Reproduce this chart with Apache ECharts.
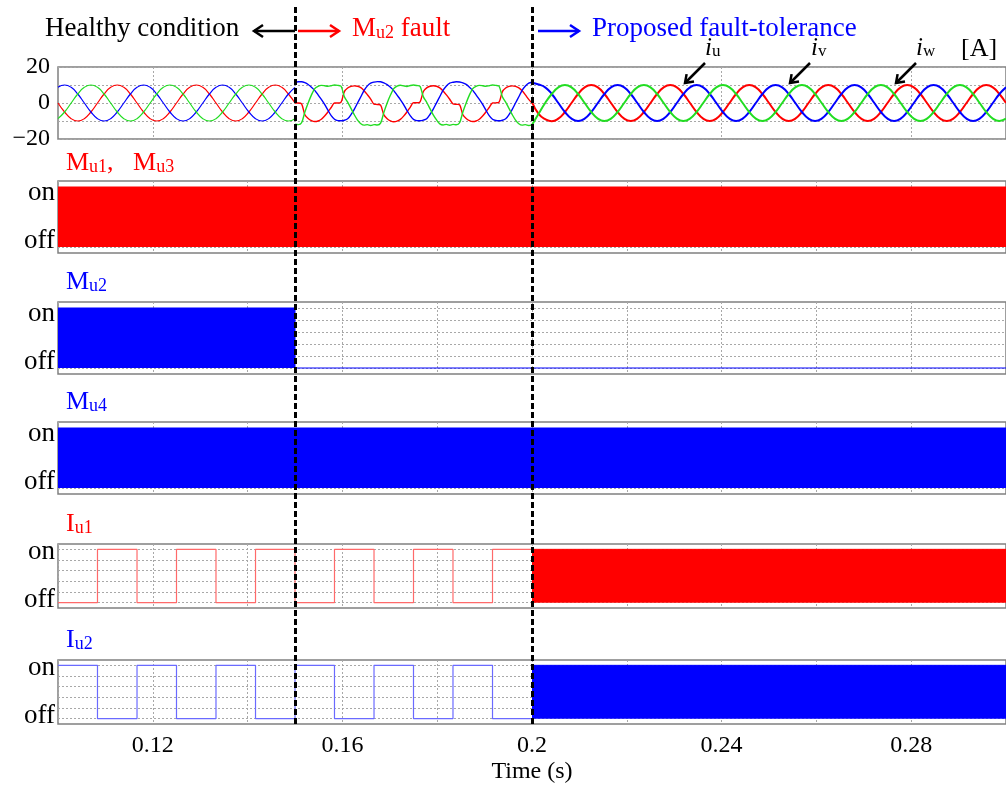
<!DOCTYPE html>
<html><head><meta charset="utf-8">
<script src="https://cdn.jsdelivr.net/npm/echarts@6/dist/echarts.min.js"></script>
<style>html,body{margin:0;padding:0;background:#fff}#c{width:1006px;height:785px}</style>
</head><body><div id="c"></div>
<script>
// ---------- time base ----------
const tStart = 0.1, tFault = 0.15, tTolerant = 0.2, tEnd = 0.3;
const coarseStep = 1 / 720;   // 30 deg of 60 Hz
const fineStep = 1 / 1440;    // 15 deg of 60 Hz
const xTickLabels = [0.12, 0.16, 0.2, 0.24, 0.28];
const currentGridTicks = [0.12, 0.16, 0.2, 0.24, 0.28];
const currentLabels = [-20, 0, 20];
const switchTicks = [0, 0.2, 0.4, 0.6, 0.8, 1];
const moduleLabelPos = [0.1, 0.9];     // where "off" / "on" text sits
const igbtLabelPos = [0.05, 0.95];
const eventTimes = [tFault, tTolerant];

// ---------- phase currents [A], healthy 0.10-0.15 s (step 1/720 s) ----------
const iuHealthy = [0,-5,-8.7,-10,-8.7,-5,0,5,8.7,10,8.7,5,
  0,-5,-8.7,-10,-8.7,-5,0,5,8.7,10,8.7,5,
  0,-5,-8.7,-10,-8.7,-5,0,5,8.7,10,8.7,5, 0];
const ivHealthy = [8.7,10,8.7,5,0,-5,-8.7,-10,-8.7,-5,0,5,
  8.7,10,8.7,5,0,-5,-8.7,-10,-8.7,-5,0,5,
  8.7,10,8.7,5,0,-5,-8.7,-10,-8.7,-5,0,5, 8.7];
const iwHealthy = [-8.7,-5,0,5,8.7,10,8.7,5,0,-5,-8.7,-10,
  -8.7,-5,0,5,8.7,10,8.7,5,0,-5,-8.7,-10,
  -8.7,-5,0,5,8.7,10,8.7,5,0,-5,-8.7,-10, -8.7];

// ---------- Mu2 fault 0.15-0.20 s (step 1/1440 s) ----------
const iuFault = [
  0,0,-0.5,-6.5,-8.6,-9.8,-10.3,-10,-9,-7.2,-5,-2.5,
  0,0,0.5,6.3,8.3,9.2,9.5,9.3,8.5,6.8,4.6,2.2,
  -0.6,-0.8,-1.2,-6.6,-8.7,-9.9,-10.4,-10.1,-9.1,-7.3,-5,-2.4,
  0.1,0.1,0.6,6.4,8.4,9.3,9.6,9.3,8.4,6.7,4.5,2.1,
  -0.5,-0.7,-1,-6.5,-8.6,-9.8,-10.3,-10,-9,-7.2,-5,-2.5,
  0,0.1,0.5,6.3,8.3,9.2,9.5,9.2,8.4,6.8,4.5,2.0,
  0];
const ivFault = [
  11.5,11.8,11.8,11.3,10.3,8.8,7,4.5,2,-0.8,-4,-7,
  -9,-9.8,-9.9,-9.6,-8.8,-6.5,-3.5,0,3.5,7,9.5,11,
  11.6,11.9,11.8,11.2,10.2,8.7,6.9,4.4,1.9,-0.9,-4.1,-7,
  -9.1,-9.8,-9.9,-9.5,-8.7,-6.4,-3.4,0.1,3.6,7.1,9.5,11,
  11.5,11.8,11.7,11.2,10.3,8.8,7,4.5,2,-0.8,-4,-7,
  -9,-9.7,-9.9,-9.6,-8.8,-6.5,-3.5,0,3.5,7,9.4,11,
  11.5];
const iwFault = [
  -11.8,-12,-11,-5,0,4.5,8,9.3,9.8,9.6,9.3,9.6,
  10,9.8,9.3,3.5,0.5,-3,-6.5,-9.5,-11.5,-12.3,-12,-12.5,
  -12,-12.2,-11.2,-5.2,0,4.4,8,9.4,9.9,9.5,9.2,9.7,
  10,9.7,9.2,3.4,0.4,-3.1,-6.6,-9.4,-11.6,-12.2,-11.9,-12.4,
  -11.9,-12.1,-11,-5,0,4.5,8,9.3,9.8,9.6,9.3,9.6,
  10,9.8,9.3,3.5,0.5,-3,-6.5,-9.5,-11.5,-12.3,-12,-12.5,
  -12];

// ---------- proposed fault tolerance 0.20-0.30 s (step 1/720 s) ----------
const iuPost = [0.5,-6,-9,-10.2,-8.7,-5,0,5,8.7,10,8.7,5,
  0,-5,-8.7,-10,-8.7,-5,0,5,8.7,10,8.7,5,
  0,-5,-8.7,-10,-8.7,-5,0,5,8.7,10,8.7,5,
  0,-5,-8.7,-10,-8.7,-5,0,5,8.7,10,8.7,5,
  0,-5,-8.7,-10,-8.7,-5,0,5,8.7,10,8.7,5,
  0,-5,-8.7,-10,-8.7,-5,0,5,8.7,10,8.7,5, 0];
const ivPost = [11.2,10.3,8.7,5,0,-5,-8.7,-10,-8.7,-5,0,5,
  8.7,10,8.7,5,0,-5,-8.7,-10,-8.7,-5,0,5,
  8.7,10,8.7,5,0,-5,-8.7,-10,-8.7,-5,0,5,
  8.7,10,8.7,5,0,-5,-8.7,-10,-8.7,-5,0,5,
  8.7,10,8.7,5,0,-5,-8.7,-10,-8.7,-5,0,5,
  8.7,10,8.7,5,0,-5,-8.7,-10,-8.7,-5,0,5, 8.7];
const iwPost = [-12.2,-6,0,5,8.7,10,8.7,5,0,-5,-8.7,-10,
  -8.7,-5,0,5,8.7,10,8.7,5,0,-5,-8.7,-10,
  -8.7,-5,0,5,8.7,10,8.7,5,0,-5,-8.7,-10,
  -8.7,-5,0,5,8.7,10,8.7,5,0,-5,-8.7,-10,
  -8.7,-5,0,5,8.7,10,8.7,5,0,-5,-8.7,-10,
  -8.7,-5,0,5,8.7,10,8.7,5,0,-5,-8.7,-10, -8.7];

// ---------- switching states (1 = on, 0 = off) ----------
const mu13Times = [0.1, 0.3];           const mu13States = [1, 1];
const mu2Times  = [0.1, 0.15, 0.15, 0.3]; const mu2States = [1, 1, 0, 0];
const mu4Times  = [0.1, 0.3];           const mu4States = [1, 1];
const iuTimes = [0.1, 0.10833, 0.11667, 0.125, 0.13333, 0.14167, 0.15, 0.15833, 0.16667, 0.175, 0.18333, 0.19167, 0.2];
const iu1States = [0, 1, 0, 1, 0, 1, 0, 1, 0, 1, 0, 1, 1];
const iu2States = [1, 0, 1, 0, 1, 0, 1, 0, 1, 0, 1, 0, 0];
const iu1BlockTimes = [0.2, 0.3]; const iu1BlockStates = [1, 1];
const iu2BlockTimes = [0.2, 0.3]; const iu2BlockStates = [1, 1];

// ---------- build ----------
const sampled = (t0, step, vals) => vals.map((v, i) => [t0 + i * step, v]);
const pairs = (ts, vs) => ts.map((t, i) => [t, vs[i]]);

const FONT = '"Liberation Serif", "Times New Roman", serif';
const RED = '#ff0000', BLUE = '#0000ff', GREEN = '#22dd22';
const gridDefs = [
  { top: 67, height: 72 },
  { top: 181, height: 72 },
  { top: 302, height: 72 },
  { top: 422, height: 72 },
  { top: 544, height: 64 },
  { top: 660, height: 64 }
];
const LEFT = 58, RIGHT = -9;
const grids = gridDefs.map(g => ({ left: LEFT, right: RIGHT, top: g.top, height: g.height,
  show: true, borderColor: '#808080', borderWidth: 1.5, backgroundColor: 'transparent' }));
grids.push({ left: LEFT, right: RIGHT, top: 5, height: 719, show: false });

const dotted = { show: true, lineStyle: { type: [2, 2], color: '#a8a8a8', width: 1 } };
const xAxes = gridDefs.map((g, i) => ({
  gridIndex: i, type: 'value', min: tStart, max: tEnd, interval: 0.02,
  axisLine: { show: false },
  axisTick: i === 0 ? { show: false, customValues: currentGridTicks } : { show: false },
  axisLabel: i === 5 ? { show: true, customValues: xTickLabels, fontSize: 24, fontFamily: FONT, color: '#000', margin: 10,
    formatter: v => String(+v.toFixed(2)) } : { show: false },
  splitLine: dotted,
  name: i === 5 ? 'Time (s)' : '', nameLocation: 'middle', nameGap: 36,
  nameTextStyle: { fontSize: 24, fontFamily: FONT, color: '#000' }
}));
xAxes.push({ gridIndex: 6, type: 'value', min: tStart, max: tEnd, show: false });

const yAxes = gridDefs.map((g, i) => i === 0 ? {
  gridIndex: 0, type: 'value', min: -20, max: 20, interval: 10,
  axisLine: { show: false }, axisTick: { show: false },
  axisLabel: { customValues: currentLabels, fontSize: 24, fontFamily: FONT, color: '#000', margin: 8,
    formatter: v => v < 0 ? '\u2212' + (-v) : String(v) },
  splitLine: dotted
} : {
  gridIndex: i, type: 'value', min: -0.1, max: 1.1,
  axisLine: { show: false }, axisTick: { show: false, customValues: switchTicks },
  axisLabel: { customValues: i >= 4 ? igbtLabelPos : moduleLabelPos, fontSize: 27, fontFamily: FONT, color: '#000', margin: 3,
    formatter: v => v > 0.5 ? 'on' : 'off' },
  splitLine: dotted
});
yAxes.push({ gridIndex: 6, type: 'value', min: 0, max: 1, show: false });

const series = [];
function curve(data, color, width, smooth, gi) {
  series.push({ type: 'line', xAxisIndex: gi, yAxisIndex: gi, data, showSymbol: false, smooth,
    lineStyle: { color, width }, z: 3 });
}
curve(sampled(tStart, coarseStep, iuHealthy), RED, 1.2, 0.5, 0);
curve(sampled(tStart, coarseStep, ivHealthy), BLUE, 1.2, 0.5, 0);
curve(sampled(tStart, coarseStep, iwHealthy), GREEN, 1.2, 0.5, 0);
curve(sampled(tFault, fineStep, iuFault), RED, 1.4, 0.3, 0);
curve(sampled(tFault, fineStep, ivFault), BLUE, 1.4, 0.3, 0);
curve(sampled(tFault, fineStep, iwFault), GREEN, 1.4, 0.3, 0);
curve(sampled(tTolerant, coarseStep, iuPost), RED, 2, 0.5, 0);
curve(sampled(tTolerant, coarseStep, ivPost), BLUE, 2, 0.5, 0);
curve(sampled(tTolerant, coarseStep, iwPost), GREEN, 2, 0.5, 0);

function block(data, color, gi) {
  series.push({ type: 'line', xAxisIndex: gi, yAxisIndex: gi, data, showSymbol: false,
    lineStyle: { color, width: 1 }, areaStyle: { color, opacity: 1 }, z: 3 });
}
function wave(data, color, gi) {
  series.push({ type: 'line', xAxisIndex: gi, yAxisIndex: gi, data, showSymbol: false, step: 'end',
    lineStyle: { color, width: 1.2 }, z: 3 });
}
block(pairs(mu13Times, mu13States), RED, 1);
block(pairs(mu2Times, mu2States), BLUE, 2);
block(pairs(mu4Times, mu4States), BLUE, 3);
wave(pairs(iuTimes, iu1States), '#ff6a6a', 4);
block(pairs(iu1BlockTimes, iu1BlockStates), RED, 4);
wave(pairs(iuTimes, iu2States), '#6a6aff', 5);
block(pairs(iu2BlockTimes, iu2BlockStates), BLUE, 5);

series.push({ type: 'line', xAxisIndex: 6, yAxisIndex: 6, data: [], z: 20, silent: true,
  markLine: { symbol: 'none', silent: true, animation: false, label: { show: false },
    lineStyle: { color: '#000', width: 3, type: [6, 3] },
    data: eventTimes.map(t => ({ xAxis: t })) } });

// ---------- annotations ----------
const g = [];
function txt(x, y, text, rich, fill) {
  g.push({ type: 'text', x, y, z: 100, style: { text, rich, fill, font: '27px ' + FONT, verticalAlign: 'middle', align: 'left' } });
}
function sub(color, big, small) {
  return {
    m: { fontSize: big, fontFamily: FONT, fill: color, lineHeight: big + 4, verticalAlign: 'middle' },
    s: { fontSize: Math.round(big * 0.68), fontFamily: FONT, fill: color, lineHeight: big + 4, verticalAlign: 'bottom', padding: [0, 0, 2, 0] },
    i: { fontSize: big, fontFamily: FONT, fontStyle: 'italic', fill: color, lineHeight: big + 4, verticalAlign: 'middle' }
  };
}
function arrow(pts, head, color) {
  g.push({ type: 'polyline', z: 100, shape: { points: pts }, style: { stroke: color, lineWidth: 2.5, fill: null } });
  g.push({ type: 'polyline', z: 100, shape: { points: head }, style: { stroke: color, lineWidth: 2.5, fill: null } });
}
txt(45, 29, '{m|Healthy condition}', sub('#000', 27), '#000');
arrow([[254, 31], [295, 31]], [[263, 25], [254, 31], [263, 37]], '#000');
arrow([[298, 31], [339, 31]], [[330, 25], [339, 31], [330, 37]], RED);
txt(352, 29, '{m|M}{s|u2}{m| fault}', sub(RED, 27), RED);
arrow([[538, 31], [579, 31]], [[570, 25], [579, 31], [570, 37]], BLUE);
txt(592, 29, '{m|Proposed fault-tolerance}', sub(BLUE, 27), BLUE);
txt(961, 49, '{m|[A]}', sub('#000', 26), '#000');
txt(705, 48, '{i|i}{s|u}', sub('#000', 25), '#000');
txt(811, 48, '{i|i}{s|v}', sub('#000', 25), '#000');
txt(916, 48, '{i|i}{s|w}', sub('#000', 25), '#000');
arrow([[705, 63], [685, 83]], [[694, 81.4], [685, 83], [686.6, 74.1]], '#000');
arrow([[810, 63], [790, 83]], [[799, 81.4], [790, 83], [791.6, 74.1]], '#000');
arrow([[916, 63], [896, 83]], [[905, 81.4], [896, 83], [897.6, 74.1]], '#000');
txt(66, 163, '{m|M}{s|u1}{m|,   M}{s|u3}', sub(RED, 26), RED);
txt(66, 282, '{m|M}{s|u2}', sub(BLUE, 26), BLUE);
txt(66, 402, '{m|M}{s|u4}', sub(BLUE, 26), BLUE);
txt(66, 524, '{m|I}{s|u1}', sub(RED, 26), RED);
txt(66, 640, '{m|I}{s|u2}', sub(BLUE, 26), BLUE);

const chart = echarts.init(document.getElementById('c'));
chart.setOption({
  animation: false,
  backgroundColor: '#fff',
  grid: grids, xAxis: xAxes, yAxis: yAxes, series, graphic: g
});
</script></body></html>
